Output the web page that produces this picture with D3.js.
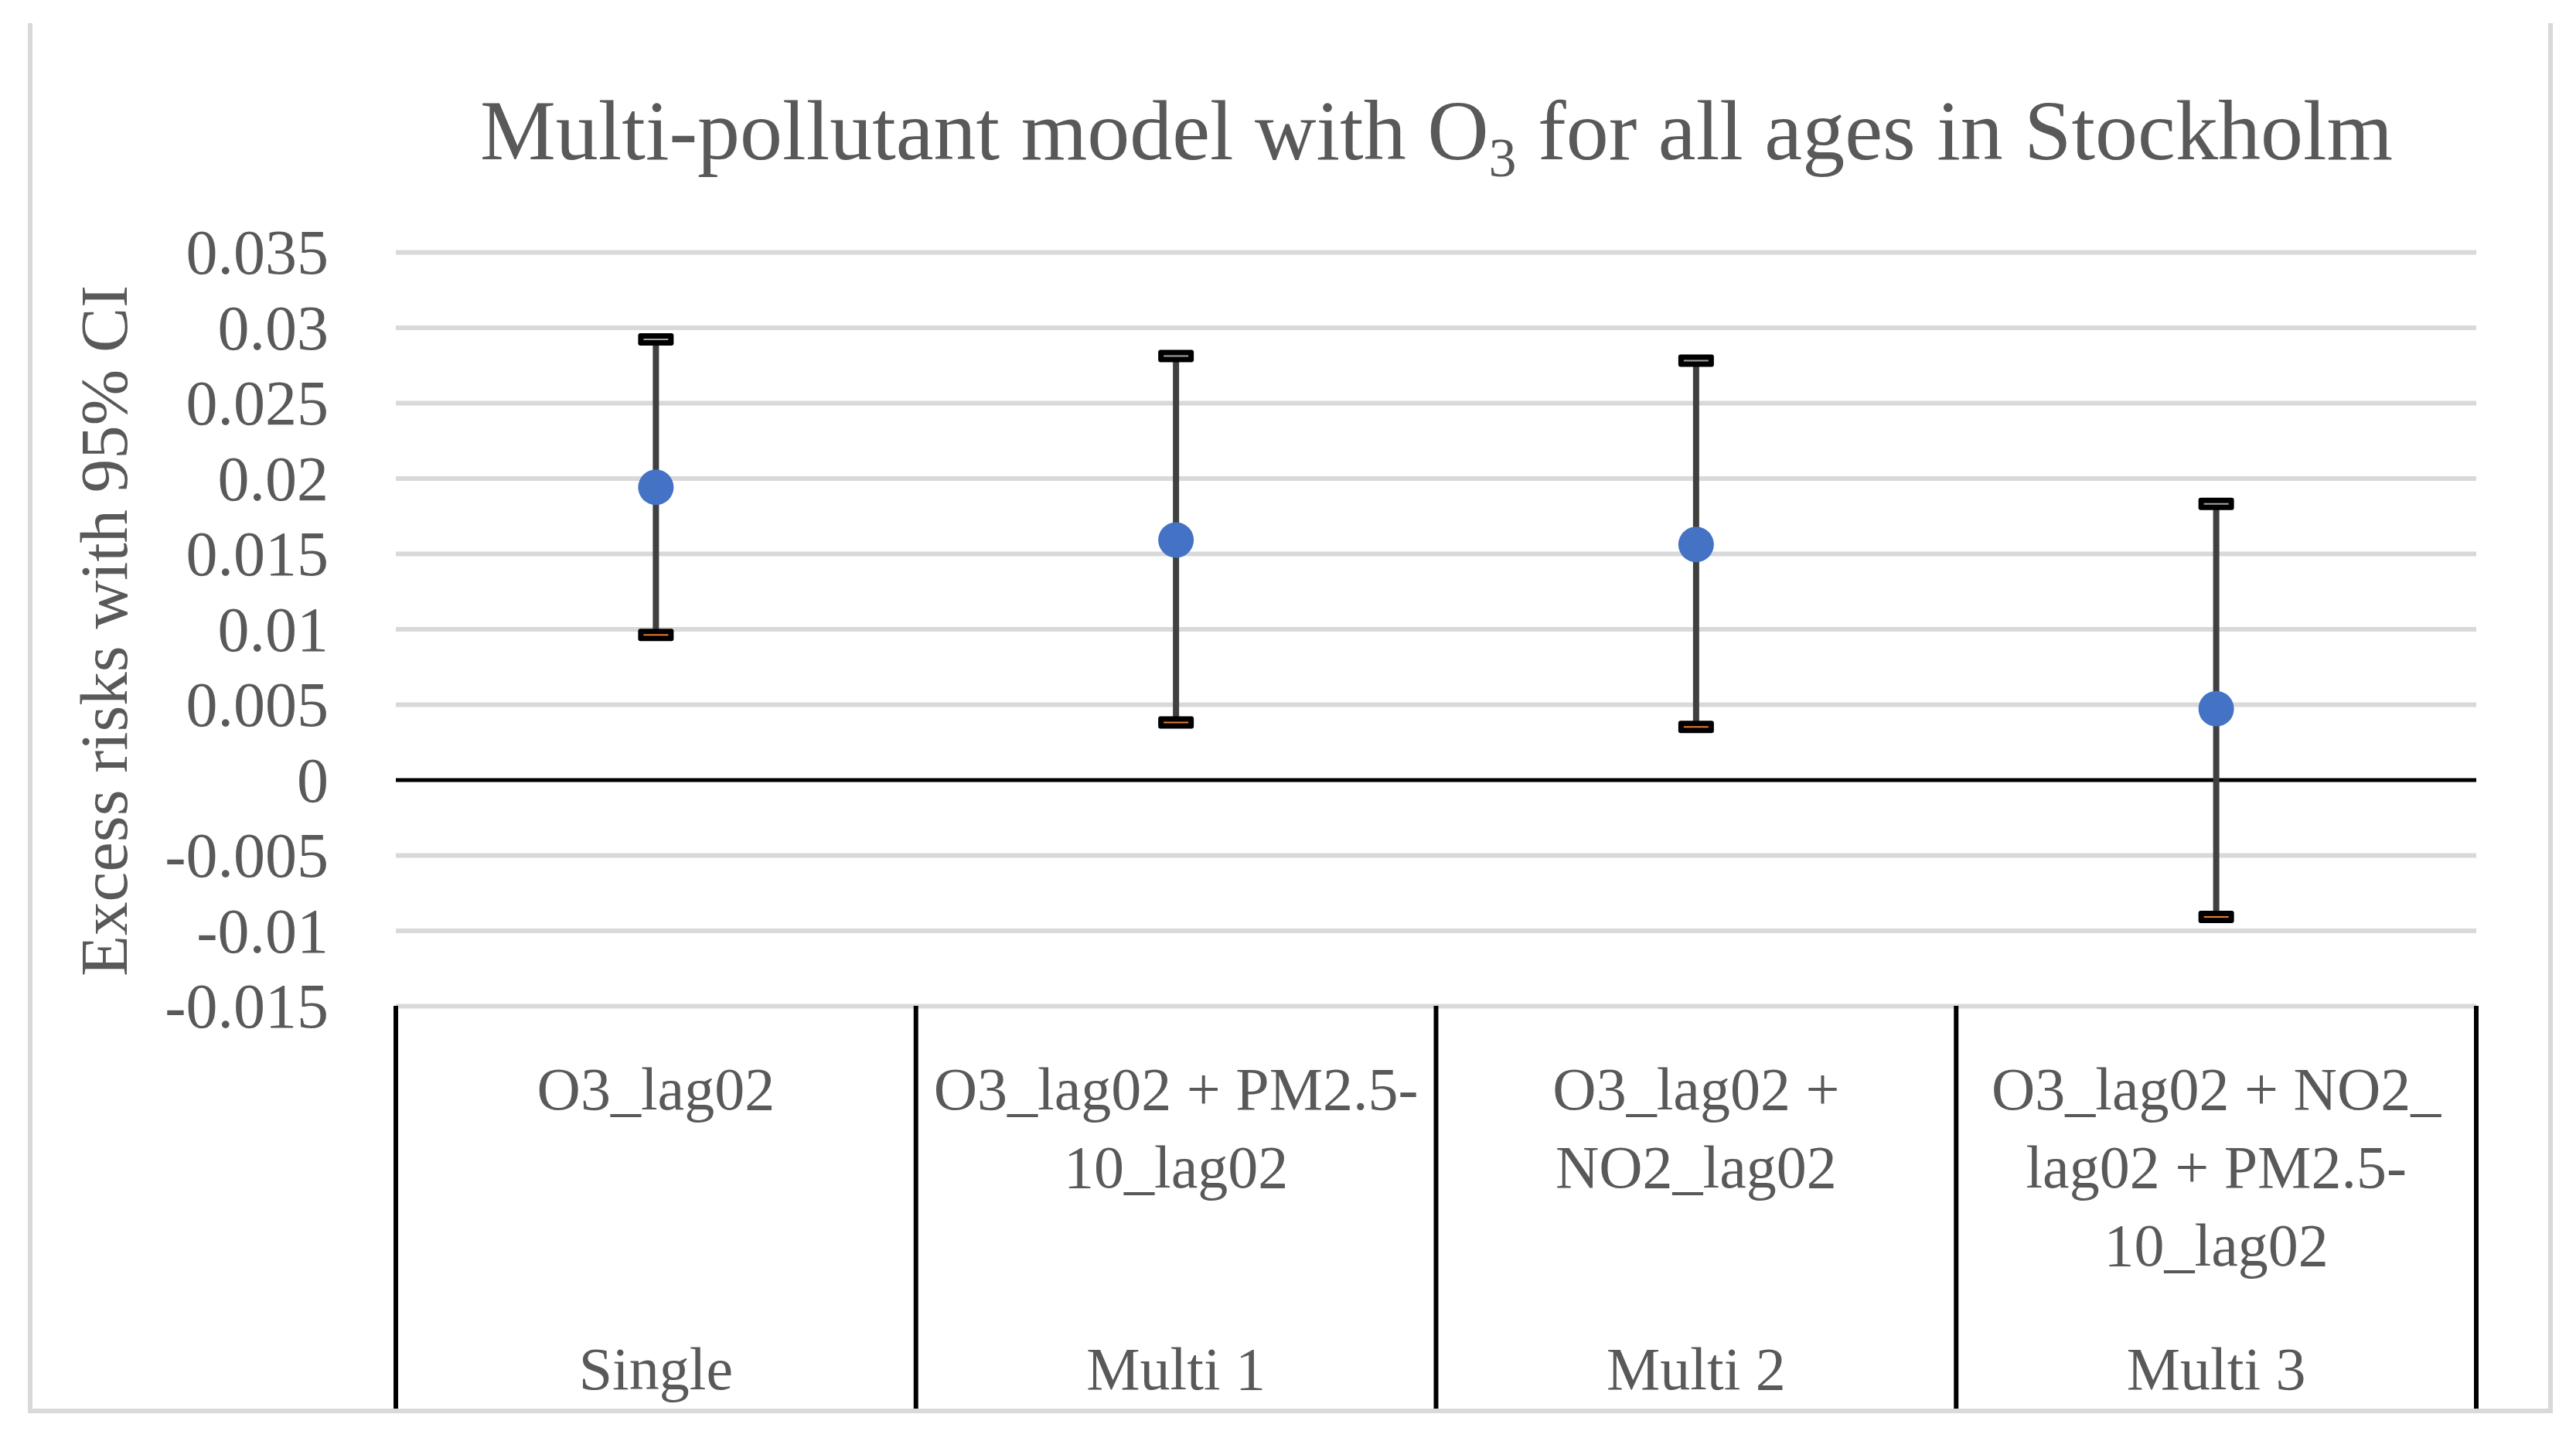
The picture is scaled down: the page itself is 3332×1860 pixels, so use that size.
<!DOCTYPE html>
<html>
<head>
<meta charset="utf-8">
<script src="https://cdn.jsdelivr.net/npm/d3@7"></script>
<style>
  body { margin: 0; background: #fff; }
  text { font-family: "Liberation Serif", "DejaVu Serif", serif; fill: #595959; }
</style>
</head>
<body>
<div id="chart"></div>
<script>
// Our canvas
const width = 3332,
  height = 1860

// data
const groups = ['Single', 'Multi 1', 'Multi 2', 'Multi 3']
const models = [
  ['O3_lag02'],
  ['O3_lag02 + PM2.5-', '10_lag02'],
  ['O3_lag02 +', 'NO2_lag02'],
  ['O3_lag02 + NO2_', 'lag02 + PM2.5-', '10_lag02']
]
const estimate = [0.0194, 0.0159, 0.0156, 0.0047]
const lower = [0.0096, 0.0038, 0.0035, -0.0091]
const upper = [0.0292, 0.0281, 0.0278, 0.0183]
const yTicks = [-0.015, -0.01, -0.005, 0, 0.005, 0.01, 0.015, 0.02, 0.025, 0.03, 0.035]

let svg = d3.select('#chart')
  .append('svg')
  .attr('width', width)
  .attr('height', height)

// scales
const xScale = d3.scaleBand()
  .domain(groups)
  .range([512, 3203])
  .padding(0)

const yScale = d3.scaleLinear()
  .domain([-0.015, 0.035])
  .range([1301, 326])

const cx = (i) => xScale(groups[i]) + xScale.bandwidth() / 2

// chart border (top edge is cut off in the original)
svg.append('path')
  .attr('d', 'M39,30 V1825 H3299 V30')
  .attr('fill', 'none')
  .attr('stroke', '#d9d9d9')
  .attr('stroke-width', 6)

// title
let title = svg.append('text')
  .attr('x', 1858)
  .attr('y', 206)
  .attr('text-anchor', 'middle')
  .style('font-size', '110px')
title.append('tspan').text('Multi-pollutant model with O')
title.append('tspan').text('3').attr('dy', 22).style('font-size', '72px')
title.append('tspan').text(' for all ages in Stockholm').attr('dy', -22)

// y axis with gridlines
let axisY = d3.axisLeft(yScale)
  .tickValues(yTicks)
  .tickSize(-(3203 - 512))
  .tickPadding(87)
  .tickFormat((d) => String(+d.toFixed(3))) // plain hyphen like Excel

let gy = svg.append('g')
  .attr('transform', 'translate(512, 0)')
  .call(axisY)
gy.select('.domain').remove()
gy.selectAll('.tick line')
  .attr('stroke', (d) => d === 0 ? '#000' : '#d9d9d9')
  .attr('stroke-width', (d) => d === 0 ? 5 : 6)
gy.selectAll('.tick text')
  .attr('fill', '#595959')
  .style('font-size', '82px')
  .attr('dy', '0.34em')
  .style('font-family', '"Liberation Serif", serif')
// put zero line on top
gy.selectAll('.tick').filter((d) => d === 0).raise()

// y title
svg.append('text')
  .attr('transform', 'translate(164, 816) rotate(-90)')
  .attr('text-anchor', 'middle')
  .style('font-size', '87px')
  .text('Excess risks with 95% CI')

// category box lines
let bounds = groups.map((g) => xScale(g)).concat([xScale.range()[1]])
svg.selectAll('line.cat')
  .data(bounds)
  .enter()
  .append('line')
  .attr('class', 'cat')
  .attr('x1', (d) => d)
  .attr('x2', (d) => d)
  .attr('y1', yScale(-0.015))
  .attr('y2', 1822)
  .attr('stroke', '#000')
  .attr('stroke-width', 6)

// category labels, inner level
let inner = svg.selectAll('text.model')
  .data(models)
  .enter()
  .append('text')
  .attr('class', 'model')
  .attr('text-anchor', 'middle')
  .style('font-size', '78px')
inner.selectAll('tspan')
  .data((d, i) => d.map((t) => ({ t: t, i: i })))
  .enter()
  .append('tspan')
  .attr('x', (d) => cx(d.i))
  .attr('y', (d, j) => 1435 + j * 101)
  .text((d) => d.t)

// category labels, outer level
svg.selectAll('text.group')
  .data(groups)
  .enter()
  .append('text')
  .attr('class', 'group')
  .attr('text-anchor', 'middle')
  .attr('x', (d, i) => cx(i))
  .attr('y', 1797)
  .style('font-size', '78px')
  .text((d) => d)

// high-low lines
let marks = svg.append('g')
marks.selectAll('line.ci')
  .data(estimate)
  .enter()
  .append('line')
  .attr('class', 'ci')
  .attr('x1', (d, i) => cx(i))
  .attr('x2', (d, i) => cx(i))
  .attr('y1', (d, i) => yScale(lower[i]))
  .attr('y2', (d, i) => yScale(upper[i]))
  .attr('stroke', '#404040')
  .attr('stroke-width', 8)

// dash markers for the bounds
let caps = (vals, color) => {
  let g = marks.append('g')
  g.selectAll('rect')
    .data(vals)
    .enter()
    .append('rect')
    .attr('x', (d, i) => cx(i) - 23)
    .attr('y', (d) => yScale(d) - 8)
    .attr('width', 46)
    .attr('height', 16)
    .attr('rx', 3)
    .attr('fill', '#000')
  g.selectAll('line')
    .data(vals)
    .enter()
    .append('line')
    .attr('x1', (d, i) => cx(i) - 16)
    .attr('x2', (d, i) => cx(i) + 16)
    .attr('y1', (d) => yScale(d))
    .attr('y2', (d) => yScale(d))
    .attr('stroke', color)
    .attr('stroke-width', 2)
}
caps(upper, '#a5a5a5')
caps(lower, '#ed7d31')

// point estimates
marks.selectAll('circle')
  .data(estimate)
  .enter()
  .append('circle')
  .attr('cx', (d, i) => cx(i))
  .attr('cy', (d) => yScale(d))
  .attr('r', 23)
  .attr('fill', '#4472c4')
</script>
</body>
</html>
